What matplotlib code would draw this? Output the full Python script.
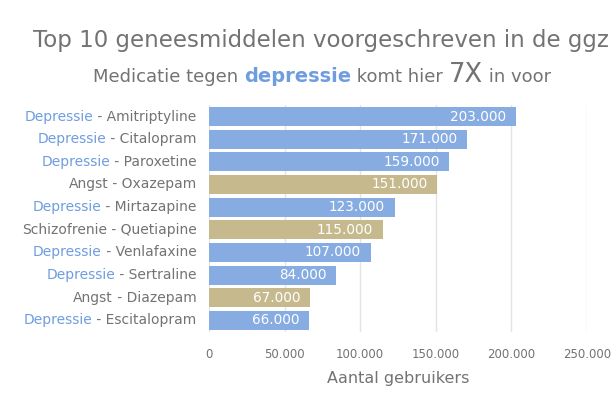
import matplotlib.pyplot as plt
from matplotlib.ticker import FuncFormatter

# Top 10 prescribed medicines in Dutch mental health care (ggz)
categories = ["Depressie", "Depressie", "Depressie", "Angst", "Depressie",
              "Schizofrenie", "Depressie", "Depressie", "Angst", "Depressie"]
drugs = ["Amitriptyline", "Citalopram", "Paroxetine", "Oxazepam", "Mirtazapine",
         "Quetiapine", "Venlafaxine", "Sertraline", "Diazepam", "Escitalopram"]
users = [203000, 171000, 159000, 151000, 123000, 115000, 107000, 84000, 67000, 66000]
xticks = [0, 50000, 100000, 150000, 200000, 250000]

BLUE = "#86ace2"
TAN = "#c6b98d"
BLUE_TEXT = "#6f9de0"
GRAY = "#737373"

plt.rcParams["font.family"] = ["DejaVu Sans"]


def dutch(v):
    return f"{int(v):,}".replace(",", ".")


fig = plt.figure(figsize=(6.15, 3.94), dpi=100)
ax = fig.add_axes([0.340, 0.158, 0.614, 0.575])

ypos = list(range(len(users)))
colors = [BLUE if c == "Depressie" else TAN for c in categories]
ax.barh(ypos, users, height=0.84, color=colors, zorder=2)
ax.set_ylim(len(users) - 0.5, -0.5)
ax.set_xlim(0, 250000)
ax.set_xticks(xticks)
ax.xaxis.set_major_formatter(FuncFormatter(lambda v, p: dutch(v)))
ax.grid(axis="x", color="#e4e4e4", linewidth=1, zorder=0)
ax.tick_params(axis="x", length=0, pad=12, labelsize=8.5, labelcolor=GRAY)
ax.set_yticks([])
for s in ax.spines.values():
    s.set_visible(False)
ax.set_xlabel("Aantal gebruikers", fontsize=11.5, color=GRAY, labelpad=7)

# value labels inside the bars
for y, v in zip(ypos, users):
    ax.annotate(dutch(v), xy=(v, y), xytext=(-7, 0), textcoords="offset points",
                ha="right", va="center", color="white", fontsize=9.8)

# two-coloured category labels
for y, cat, drug in zip(ypos, categories, drugs):
    t = ax.annotate(f" - {drug}", xy=(0, y), xytext=(-9, 0), textcoords="offset points",
                    ha="right", va="center", color=GRAY, fontsize=10)
    ax.annotate(cat, xy=(0, 0.5), xycoords=t, ha="right", va="center",
                color=BLUE_TEXT if cat == "Depressie" else GRAY, fontsize=10)

fig.text(0.522, 0.897, "Top 10 geneesmiddelen voorgeschreven in de ggz",
         ha="center", va="center", fontsize=16.5, color=GRAY)

# subtitle built from pieces on one baseline
parts = [("Medicatie tegen ", GRAY, 13, "normal"),
         ("depressie", BLUE_TEXT, 14, "bold"),
         (" komt hier ", GRAY, 13, "normal"),
         ("7X", GRAY, 18.5, "normal"),
         (" in voor", GRAY, 13, "normal")]
baseline = 0.792
pieces = [fig.text(0, baseline, txt, ha="left", va="baseline", color=col,
                   fontsize=fs, fontweight=fw)
          for txt, col, fs, fw in parts]
fig.canvas.draw()
r = fig.canvas.get_renderer()
widths = [p.get_window_extent(r).width / fig.bbox.width for p in pieces]
x = 0.524 - sum(widths) / 2
for p, w in zip(pieces, widths):
    p.set_x(x)
    x += w

fig.savefig("out.png", dpi=100)
